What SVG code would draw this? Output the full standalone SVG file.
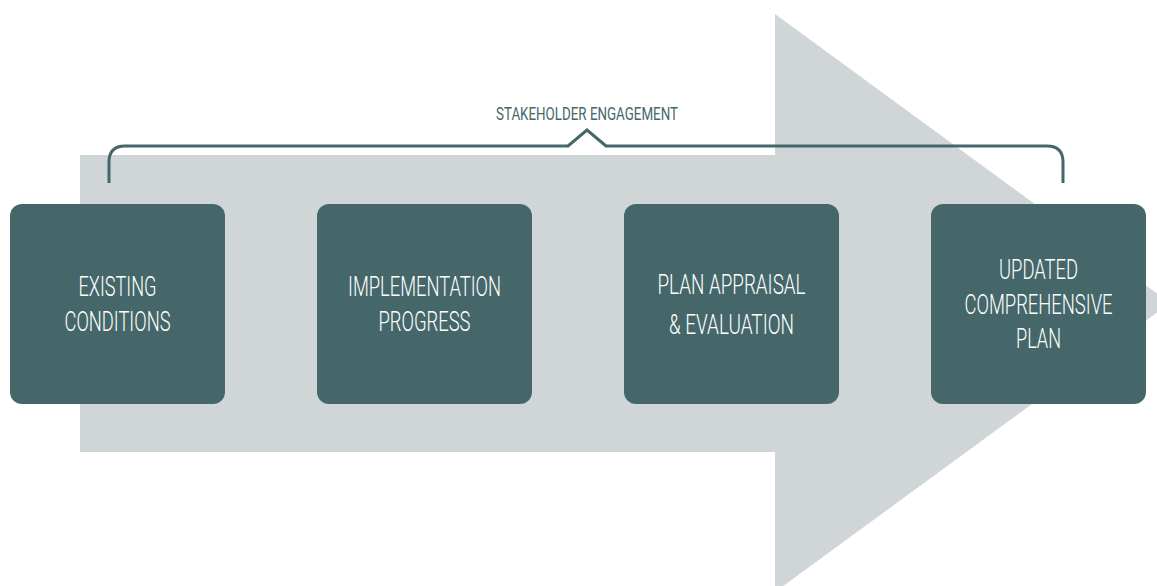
<svg xmlns="http://www.w3.org/2000/svg" width="1157" height="586" viewBox="0 0 1157 586">
<style>
.box{fill:#45676a}
.t{font-family:Roboto,"Liberation Sans",sans-serif;font-size:28px;font-weight:300;fill:#ffffff;text-anchor:middle}
.lbl{font-family:Roboto,"Liberation Sans",sans-serif;font-size:18px;fill:#45676a;text-anchor:middle}
</style>
<rect width="1157" height="586" fill="#ffffff"/>
<g id="arrow">
<polygon points="80,155 775,155 775,14 1170,303 775,592 775,452 80,452" fill="#d0d5d8"/>
</g>
<g id="connectors">
<path d="M109,183 V162 Q109,146 125,146 H568 L587,130 L606,146 H1047 Q1063,146 1063,162 V183" fill="none" stroke="#45676a" stroke-width="3"/>
<text class="lbl" x="587" y="120" textLength="182" lengthAdjust="spacingAndGlyphs">STAKEHOLDER ENGAGEMENT</text>
</g>
<g id="node1">
<rect class="box" x="10" y="204" width="215" height="200" rx="12"/>
<text class="t" x="117.5" y="296" textLength="78" lengthAdjust="spacingAndGlyphs">EXISTING</text>
<text class="t" x="117.5" y="331" textLength="106" lengthAdjust="spacingAndGlyphs">CONDITIONS</text>
</g>
<g id="node2">
<rect class="box" x="317" y="204" width="215" height="200" rx="12"/>
<text class="t" x="424.5" y="296" textLength="153" lengthAdjust="spacingAndGlyphs">IMPLEMENTATION</text>
<text class="t" x="424.5" y="331" textLength="92" lengthAdjust="spacingAndGlyphs">PROGRESS</text>
</g>
<g id="node3">
<rect class="box" x="624" y="204" width="215" height="200" rx="12"/>
<text class="t" x="731.5" y="294" textLength="148" lengthAdjust="spacingAndGlyphs">PLAN APPRAISAL</text>
<text class="t" x="731.5" y="334" textLength="125" lengthAdjust="spacingAndGlyphs">&amp; EVALUATION</text>
</g>
<g id="node4">
<rect class="box" x="931" y="204" width="215" height="200" rx="12"/>
<text class="t" x="1038.5" y="279" textLength="79" lengthAdjust="spacingAndGlyphs">UPDATED</text>
<text class="t" x="1038.5" y="314" textLength="148" lengthAdjust="spacingAndGlyphs">COMPREHENSIVE</text>
<text class="t" x="1038.5" y="348" textLength="45" lengthAdjust="spacingAndGlyphs">PLAN</text>
</g>
</svg>
